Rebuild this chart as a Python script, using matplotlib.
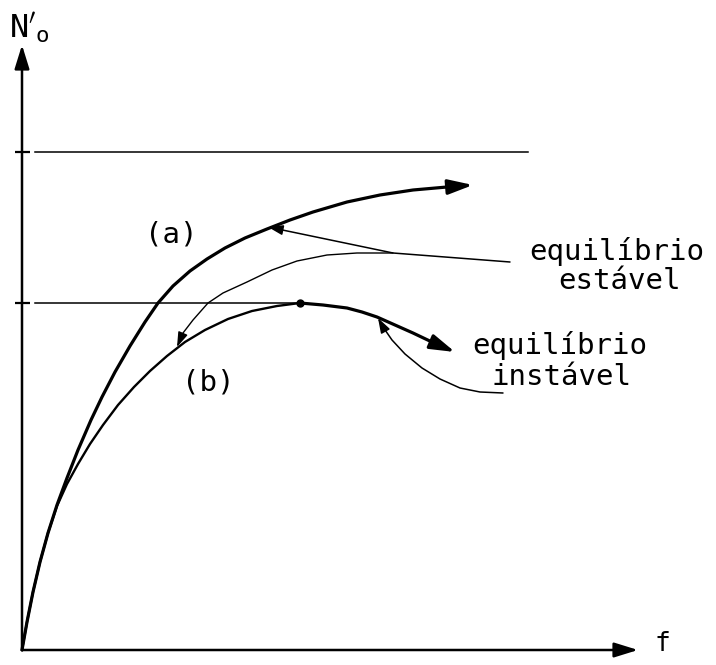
import numpy as np
import matplotlib
matplotlib.use("Agg")
import matplotlib.pyplot as plt
from matplotlib.patches import FancyArrowPatch, ArrowStyle
from matplotlib.path import Path

plt.rcParams["mathtext.fontset"] = "dejavusans"

# curve (a): stable branch, traced as (f, N'o)
a_f = [0.00, 0.10, 0.22, 0.36, 0.52, 0.70, 0.90, 1.12, 1.38, 1.60, 1.86, 2.16, 2.46, 2.72,
       3.02, 3.36, 3.70, 4.06, 4.46, 4.90, 5.36, 5.82, 6.50, 7.16, 7.82, 8.50, 9.02]
a_n = [0.00, 0.56, 1.16, 1.76, 2.34, 2.90, 3.44, 4.00, 4.60, 5.06, 5.56, 6.08, 6.56, 6.94,
       7.28, 7.58, 7.82, 8.04, 8.24, 8.42, 8.60, 8.76, 8.96, 9.10, 9.20, 9.26, 9.30]

# curve (b): rising part up to the peak
b_f = [0.00, 0.10, 0.22, 0.36, 0.52, 0.70, 0.90, 1.12, 1.36, 1.62, 1.92, 2.24, 2.56, 2.90,
       3.26, 3.66, 4.12, 4.60, 5.10, 5.56]
b_n = [0.00, 0.56, 1.16, 1.76, 2.34, 2.88, 3.32, 3.72, 4.12, 4.50, 4.90, 5.26, 5.58, 5.88,
       6.16, 6.40, 6.62, 6.78, 6.88, 6.94]
# curve (b): falling part after the peak (unstable)
b2_f = [5.56, 6.02, 6.50, 6.80, 7.10, 7.46, 7.82, 8.24, 8.66]
b2_n = [6.94, 6.90, 6.84, 6.76, 6.66, 6.50, 6.34, 6.14, 5.96]

# reference levels on the N'o axis
level_top = 9.96
level_peak = 6.94
level_top_end = 10.12

# leader lines from the labels to the curves
lead_a_f = [9.76, 7.42, 4.92]
lead_a_n = [7.76, 7.94, 8.46]
lead_b_f = [7.42, 6.70, 6.10, 5.50, 5.00, 4.50, 4.02, 3.72, 3.42, 3.22, 3.10]
lead_b_n = [7.94, 7.94, 7.90, 7.78, 7.60, 7.36, 7.14, 6.94, 6.60, 6.34, 6.06]
lead_u_f = [9.62, 9.16, 8.76, 8.36, 8.00, 7.66, 7.40, 7.22, 7.12]
lead_u_n = [5.14, 5.16, 5.24, 5.42, 5.64, 5.92, 6.20, 6.46, 6.64]

f_max = 12.32
n_max = 12.10

FONT = "DejaVu Sans Mono"


def path_arrow(ax, xs, ys, lw, hl, hw):
    verts = np.column_stack([xs, ys])
    p = FancyArrowPatch(path=Path(verts),
                        arrowstyle=ArrowStyle("-|>", head_length=hl, head_width=hw),
                        mutation_scale=10, lw=lw, color="black",
                        transform=ax.transData, capstyle="round", joinstyle="round")
    ax.add_patch(p)


fig = plt.figure(figsize=(7.16, 6.65), dpi=100)
ax = fig.add_axes([0, 0, 1, 1])
ax.set_xlim(-0.44, 13.88)
ax.set_ylim(-0.30, 13.0)
ax.axis("off")

# axes with arrow tips
for tip in [(f_max, 0), (0, n_max)]:
    ax.annotate("", xy=tip, xytext=(0, 0),
                arrowprops=dict(arrowstyle="-|>,head_length=1.45,head_width=0.45",
                                mutation_scale=10, lw=1.8, color="black",
                                shrinkA=0, shrinkB=0))

# level ticks and horizontal guide lines
for lv in [level_top, level_peak]:
    ax.plot([-0.14, 0.16], [lv, lv], color="black", lw=1.6, solid_capstyle="butt")
ax.plot([0.26, level_top_end], [level_top, level_top], color="black", lw=1.1)
ax.plot([0.26, b_f[-1]], [level_peak, level_peak], color="black", lw=1.1)

# curve (a)
path_arrow(ax, a_f, a_n, lw=2.3, hl=1.5, hw=0.45)

# curve (b): thin rising part, heavier falling part
ax.plot(b_f, b_n, color="black", lw=1.7, solid_joinstyle="round")
ax.plot(b_f[-1], b_n[-1], "o", color="black", ms=5)
path_arrow(ax, b2_f, b2_n, lw=2.3, hl=1.5, hw=0.45)

# leader arrows
path_arrow(ax, lead_a_f, lead_a_n, lw=1.1, hl=0.9, hw=0.3)
path_arrow(ax, lead_b_f, lead_b_n, lw=1.0, hl=0.9, hw=0.3)
path_arrow(ax, lead_u_f, lead_u_n, lw=1.1, hl=0.9, hw=0.3)

# labels
ax.text(2.98, 8.32, "(a)", family=FONT, fontsize=21, ha="center", va="center")
ax.text(3.72, 5.34, "(b)", family=FONT, fontsize=21, ha="center", va="center")
ax.text(11.90, 7.98, "equilíbrio", family=FONT, fontsize=21, ha="center", va="center")
ax.text(11.96, 7.38, "estável", family=FONT, fontsize=21, ha="center", va="center")
ax.text(10.76, 6.08, "equilíbrio", family=FONT, fontsize=21, ha="center", va="center")
ax.text(10.78, 5.46, "instável", family=FONT, fontsize=21, ha="center", va="center")

ax.text(-0.26, 12.44, r"$\mathtt{N}'_{\mathtt{o}}$", fontsize=23, ha="left", va="center")
ax.text(12.80, 0.12, "f", family=FONT, fontsize=19, ha="center", va="center")

plt.savefig("out.png", dpi=100)
